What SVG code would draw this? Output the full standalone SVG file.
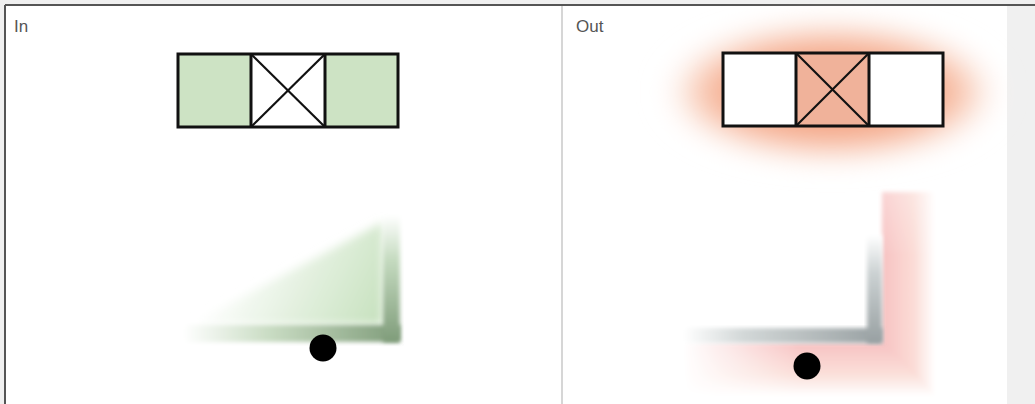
<svg xmlns="http://www.w3.org/2000/svg" width="1035" height="404" viewBox="0 0 1035 404">
<style>
.lbl{font-family:"Liberation Sans Narrow","Liberation Sans",Arial,sans-serif;font-size:17px;fill:#555}
.frame{fill:none;stroke:#111;stroke-width:3}
.mull{stroke:#111;stroke-width:3}
.diag{stroke:#111;stroke-width:2.2}
</style>
<defs>
<radialGradient id="glow" cx="0.5" cy="0.5" r="0.5">
<stop offset="0" stop-color="#f3a07e"/>
<stop offset="0.6" stop-color="#f5ab8c"/>
<stop offset="0.8" stop-color="#f9d0bd"/>
<stop offset="1" stop-color="#ffffff" stop-opacity="0"/>
</radialGradient>
<filter id="blur" x="-0.2" y="-0.4" width="1.4" height="1.8"><feGaussianBlur stdDeviation="14"/></filter>
<filter id="soft" x="-0.2" y="-0.2" width="1.4" height="1.4"><feGaussianBlur stdDeviation="2"/></filter>
<filter id="soft6" x="-0.3" y="-0.3" width="1.6" height="1.6"><feGaussianBlur stdDeviation="5"/></filter>
<linearGradient id="gH" x1="183" y1="0" x2="400" y2="0" gradientUnits="userSpaceOnUse">
<stop offset="0" stop-color="#ffffff"/>
<stop offset="0.4" stop-color="#c9dcc3"/>
<stop offset="1" stop-color="#7f9c7a"/>
</linearGradient>
<linearGradient id="gV" x1="0" y1="215" x2="0" y2="342" gradientUnits="userSpaceOnUse">
<stop offset="0" stop-color="#ffffff"/>
<stop offset="0.35" stop-color="#c5dbc0"/>
<stop offset="1" stop-color="#7f9c7a"/>
</linearGradient>
<linearGradient id="gTri" x1="230" y1="250" x2="390" y2="330" gradientUnits="userSpaceOnUse">
<stop offset="0" stop-color="#ffffff"/>
<stop offset="1" stop-color="#c3dfba"/>
</linearGradient>
<linearGradient id="grH" x1="683" y1="0" x2="882" y2="0" gradientUnits="userSpaceOnUse">
<stop offset="0" stop-color="#ffffff"/>
<stop offset="0.3" stop-color="#d3d8d8"/>
<stop offset="1" stop-color="#98a0a2"/>
</linearGradient>
<linearGradient id="grV" x1="0" y1="235" x2="0" y2="343" gradientUnits="userSpaceOnUse">
<stop offset="0" stop-color="#ffffff"/>
<stop offset="0.35" stop-color="#ccd2d3"/>
<stop offset="1" stop-color="#98a0a2"/>
</linearGradient>
<linearGradient id="pV" x1="882" y1="0" x2="935" y2="0" gradientUnits="userSpaceOnUse">
<stop offset="0" stop-color="#f7c2c2"/>
<stop offset="0.6" stop-color="#fbdcd6"/>
<stop offset="1" stop-color="#ffffff"/>
</linearGradient>
<linearGradient id="pH" x1="0" y1="343" x2="0" y2="396" gradientUnits="userSpaceOnUse">
<stop offset="0" stop-color="#f7c2c2"/>
<stop offset="0.6" stop-color="#fbe0da"/>
<stop offset="1" stop-color="#ffffff"/>
</linearGradient>
<linearGradient id="pHfade" x1="683" y1="0" x2="800" y2="0" gradientUnits="userSpaceOnUse">
<stop offset="0" stop-color="#ffffff" stop-opacity="1"/>
<stop offset="1" stop-color="#ffffff" stop-opacity="0"/>
</linearGradient>
<linearGradient id="pVfade" x1="0" y1="190" x2="0" y2="260" gradientUnits="userSpaceOnUse">
<stop offset="0" stop-color="#ffffff" stop-opacity="0.3"/>
<stop offset="1" stop-color="#ffffff" stop-opacity="0"/>
</linearGradient>
</defs>

<rect x="0" y="0" width="1035" height="404" fill="#f0f0f0"/>
<rect x="5" y="5" width="1002" height="399" fill="#ffffff"/>
<line x1="5" y1="5" x2="1035" y2="5" stroke="#555" stroke-width="2"/>
<line x1="5" y1="5" x2="5" y2="404" stroke="#555" stroke-width="2"/>
<line x1="562" y1="6" x2="562" y2="404" stroke="#c8c8c8" stroke-width="1.5"/>

<g id="label-in"><text class="lbl" x="14" y="32">In</text></g>
<g id="label-out"><text class="lbl" x="576" y="32">Out</text></g>

<g id="window-in">
<rect x="178" y="54" width="73" height="73" fill="#cde3c4"/>
<rect x="325" y="54" width="73" height="73" fill="#cde3c4"/>
<rect x="251" y="54" width="74" height="73" fill="#ffffff"/>
<line class="diag" x1="251" y1="54" x2="325" y2="127"/>
<line class="diag" x1="325" y1="54" x2="251" y2="127"/>
<rect class="frame" x="178" y="54" width="220" height="73"/>
<line class="mull" x1="251" y1="54" x2="251" y2="127"/>
<line class="mull" x1="325" y1="54" x2="325" y2="127"/>
</g>

<g id="wall-in">
<polygon points="190,325 383,325 383,222" fill="url(#gTri)" filter="url(#soft6)"/>
<rect x="183" y="325" width="217" height="17" fill="url(#gH)" filter="url(#soft)"/>
<rect x="383" y="215" width="17" height="127" fill="url(#gV)" filter="url(#soft)"/>
<circle cx="323" cy="348" r="13.5" fill="#000"/>
</g>

<g id="window-out">
<ellipse cx="832" cy="92" rx="172" ry="72" fill="url(#glow)" filter="url(#blur)"/>
<rect x="723" y="53" width="73" height="73" fill="#ffffff"/>
<rect x="869" y="53" width="74" height="73" fill="#ffffff"/>
<rect x="796" y="53" width="73" height="73" fill="#f0b29a"/>
<line class="diag" x1="796" y1="53" x2="869" y2="126"/>
<line class="diag" x1="869" y1="53" x2="796" y2="126"/>
<rect class="frame" x="723" y="53" width="220" height="73"/>
<line class="mull" x1="796" y1="53" x2="796" y2="126"/>
<line class="mull" x1="869" y1="53" x2="869" y2="126"/>
</g>

<g id="wall-out">
<g filter="url(#soft)">
<polygon points="882,192 935,192 935,404 882,343" fill="url(#pV)"/>
<rect x="882" y="192" width="53" height="60" fill="url(#pVfade)"/>
<polygon points="683,343 882,343 940,400 683,400" fill="url(#pH)"/>
<rect x="683" y="343" width="117" height="57" fill="url(#pHfade)"/>
</g>
<rect x="683" y="328" width="199" height="15" fill="url(#grH)" filter="url(#soft)"/>
<rect x="867" y="235" width="15" height="108" fill="url(#grV)" filter="url(#soft)"/>
<circle cx="807" cy="366" r="13.5" fill="#000"/>
</g>
</svg>
